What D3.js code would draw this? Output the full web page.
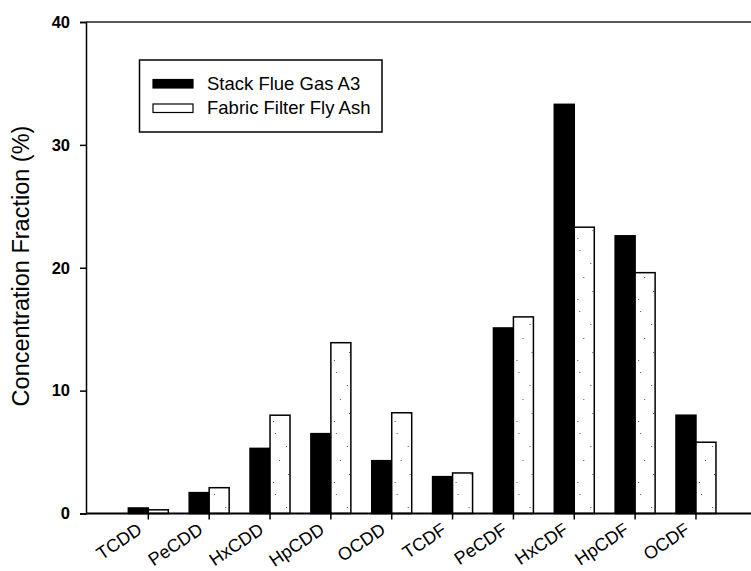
<!DOCTYPE html>
<html>
<head>
<meta charset="utf-8">
<script src="https://cdn.jsdelivr.net/npm/d3@7"></script>
<style>
  body { margin: 0; background: #fff; }
  svg { display: block; font-family: "Liberation Sans", Arial, sans-serif; }
</style>
</head>
<body>
<div id="plot"></div>
<script>
// congener groups on the x axis
const categories = ["TCDD", "PeCDD", "HxCDD", "HpCDD", "OCDD", "TCDF", "PeCDF", "HxCDF", "HpCDF", "OCDF"];
const seriesNames = ["Stack Flue Gas A3", "Fabric Filter Fly Ash"];
// values (%)
const stackGas = [0.45, 1.7, 5.3, 6.5, 4.3, 3.0, 15.1, 33.3, 22.6, 8.0];
const flyAsh = [0.3, 2.1, 8.0, 13.9, 8.2, 3.3, 16.0, 23.3, 19.6, 5.8];
const yTicks = [0, 10, 20, 30, 40];

const width = 751, height = 571;
const plotLeft = 86, plotTop = 22, plotBottom = 513.5;

const svg = d3.select("div#plot")
  .append("svg")
    .attr("width", width)
    .attr("height", height);

// sparse stipple for the fly ash bars (just a texture)
const pat = svg.append("defs").append("pattern")
  .attr("id", "stipple")
  .attr("patternUnits", "userSpaceOnUse")
  .attr("width", 21).attr("height", 61);
pat.append("rect").attr("width", 21).attr("height", 61).attr("fill", "#fff");
[[4, 6], [15, 19], [8, 33], [17, 47], [2, 55]].forEach(function(p) {
  pat.append("rect")
    .attr("x", p[0]).attr("y", p[1])
    .attr("width", 1).attr("height", 1)
    .attr("fill", "#555");
});

const x = d3.scaleBand()
  .domain(categories)
  .range([117.9, 726.4])
  .paddingInner(0.343)
  .paddingOuter(0.1715);

const x1 = d3.scaleBand()
  .domain(seriesNames)
  .range([0, x.bandwidth()]);

const y = d3.scaleLinear()
  .domain([0, 40])
  .range([plotBottom, plotTop]);

const fills = {"Stack Flue Gas A3": "#000", "Fabric Filter Fly Ash": "url(#stipple)"};
const swatch = {"Stack Flue Gas A3": "#000", "Fabric Filter Fly Ash": "#fff"};

const rows = categories.map(function(c, i) {
  return {cat: c, vals: [
    {name: seriesNames[0], v: stackGas[i]},
    {name: seriesNames[1], v: flyAsh[i]}
  ]};
});

// bars
const groups = svg.selectAll("g.grp")
  .data(rows)
  .join("g")
    .attr("class", "grp")
    .attr("transform", d => `translate(${x(d.cat)},0)`);

groups.selectAll("rect")
  .data(d => d.vals)
  .join("rect")
    .attr("x", d => x1(d.name))
    .attr("y", d => y(d.v))
    .attr("width", x1.bandwidth())
    .attr("height", d => y(0) - y(d.v))
    .attr("fill", d => fills[d.name])
    .attr("stroke", "#000")
    .attr("stroke-width", 1.5);

// top frame line
svg.append("line")
  .attr("x1", plotLeft).attr("x2", width)
  .attr("y1", plotTop).attr("y2", plotTop)
  .attr("stroke", "#222").attr("stroke-width", 1.5);

// y axis
const yAxis = svg.append("g")
  .attr("transform", `translate(${plotLeft},0)`)
  .call(d3.axisLeft(y).tickValues(yTicks).tickSize(6).tickPadding(10));
yAxis.select(".domain").attr("stroke-width", 1.5);
yAxis.selectAll(".tick line").attr("stroke-width", 1.5);
yAxis.selectAll("text")
  .style("font-size", "16.5px")
  .style("font-weight", "bold")
  .attr("fill", "#000")
  .attr("font-family", "Liberation Sans, Arial, sans-serif");

// x axis
const xAxis = svg.append("g")
  .attr("transform", `translate(0,${plotBottom})`)
  .call(d3.axisBottom(x).tickSize(6).tickSizeOuter(0));
xAxis.select(".domain").attr("d", `M${plotLeft},0H${width}`).attr("stroke-width", 2);
xAxis.selectAll(".tick line").attr("stroke-width", 1.5);
xAxis.selectAll("text")
  .attr("font-family", "Liberation Sans, Arial, sans-serif")
  .style("font-size", "18px")
  .attr("fill", "#000")
  .attr("text-anchor", "end")
  .attr("y", 0).attr("dy", 0)
  .attr("transform", "translate(-5,19) rotate(-34)");

// y title
svg.append("text")
  .attr("transform", "translate(29,266) rotate(-90)")
  .attr("text-anchor", "middle")
  .style("font-size", "23.5px")
  .text("Concentration Fraction (%)");

// legend
const legend = svg.append("g");
legend.append("rect")
  .attr("x", 139.5).attr("y", 60)
  .attr("width", 242.5).attr("height", 72)
  .attr("fill", "#fff")
  .attr("stroke", "#000").attr("stroke-width", 1.5);

const items = legend.selectAll("g.item")
  .data(seriesNames)
  .join("g")
    .attr("class", "item")
    .attr("transform", (d, i) => `translate(153,${79.5 + i * 24.5})`);

items.append("rect")
  .attr("width", 40).attr("height", 8.5)
  .attr("fill", d => swatch[d])
  .attr("stroke", "#000").attr("stroke-width", 1.2);

items.append("text")
  .attr("x", 54).attr("y", 10)
  .style("font-size", "18.5px")
  .text(d => d);
</script>
</body>
</html>
